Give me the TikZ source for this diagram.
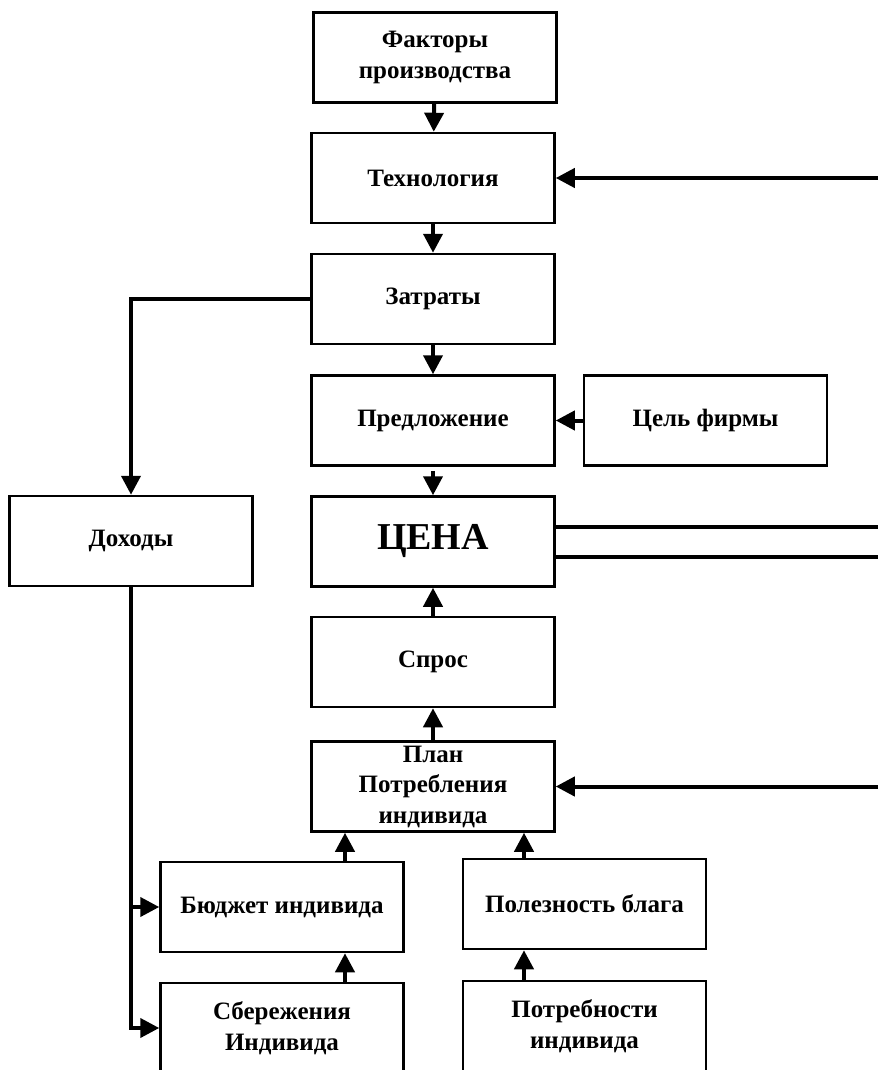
\documentclass[tikz,border=0pt]{standalone}
\usepackage{fontspec}
\setmainfont{Liberation Serif}
\usetikzlibrary{arrows.meta}

\begin{document}
\begin{tikzpicture}[x=1pt,y=-1pt,
    box/.style={draw,line width=2.5pt,minimum width=243pt,minimum height=90pt,
      align=center,inner sep=0pt,font=\fontsize{25}{30.5}\selectfont\bfseries},
    conn/.style={line width=4pt,-{Triangle[length=19pt,width=19pt]}},
    wire/.style={line width=4pt}]
    % Поле рисунка
    \fill[white] (0,0) rectangle (878,1070);
    \useasboundingbox (0,0) rectangle (878,1070);
    \clip (0,0) rectangle (878,1070);
    \coordinate (redge) at (878,0);
    % Фирма
    \node[box] (fact) at (435,57.5) {Факторы\\производства};
    \node[box] (tech) at (433,178) {Технология};
    \node[box] (cost) at (433,299) {Затраты};
    \node[box] (supply) at (433,420.5) {Предложение};
    \node[box] (goal) at (705.5,420.5) {Цель фирмы};
    % Рынок
    \node[box,font=\fontsize{38}{42}\selectfont\bfseries] (price) at (433,541.5) {ЦЕНА};
    \node[box] (income) at (131,541) {Доходы};
    \node[box] (demand) at (433,662) {Спрос};
    % Индивид
    \node[box] (plan) at (433,786.5) {План\\Потребления\\индивида};
    \node[box] (budget) at (282,907) {Бюджет индивида};
    \node[box] (utility) at (584.5,904) {Полезность блага};
    \node[box] (savings) at (282,1028) {Сбережения\\Индивида};
    \node[box] (needs) at (584.5,1026) {Потребности\\индивида};
    % Стрелки вниз
    \draw[conn] (fact) -- (tech);
    \draw[conn] (tech) -- (cost);
    \draw[conn] (cost) -- (supply);
    \draw[conn,shorten <=4pt] (supply) -- (price);
    \draw[conn] (goal) -- (supply);
    \draw[conn] (cost.west) -| (income.north);
    % Стрелки вверх
    \draw[conn] (demand) -- (price);
    \draw[conn] (plan) -- (demand);
    \coordinate (bu) at ([xshift=63pt]budget.north);
    \coordinate (sv) at ([xshift=63pt]savings.north);
    \coordinate (ut) at ([xshift=-60.5pt]utility.north);
    \coordinate (nd) at ([xshift=-60.5pt]needs.north);
    \draw[conn] (bu) -- (bu |- plan.south);
    \draw[conn] (sv) -- (sv |- budget.south);
    \draw[conn] (ut) -- (ut |- plan.south);
    \draw[conn] (nd) -- (nd |- utility.south);
    % Доходы индивида
    \draw[conn] (income.south) |- (savings.west);
    \draw[conn] (income.south |- budget.west) -- (budget.west);
    % Связи с правым краем
    \draw[conn] (tech.east -| redge) -- (tech.east);
    \draw[conn] (plan.east -| redge) -- (plan.east);
    \coordinate (p1) at ([yshift=15pt]price.east);
    \coordinate (p2) at ([yshift=-15pt]price.east);
    \draw[wire] (p1) -- (p1 -| redge);
    \draw[wire] (p2) -- (p2 -| redge);
\end{tikzpicture}
\end{document}
